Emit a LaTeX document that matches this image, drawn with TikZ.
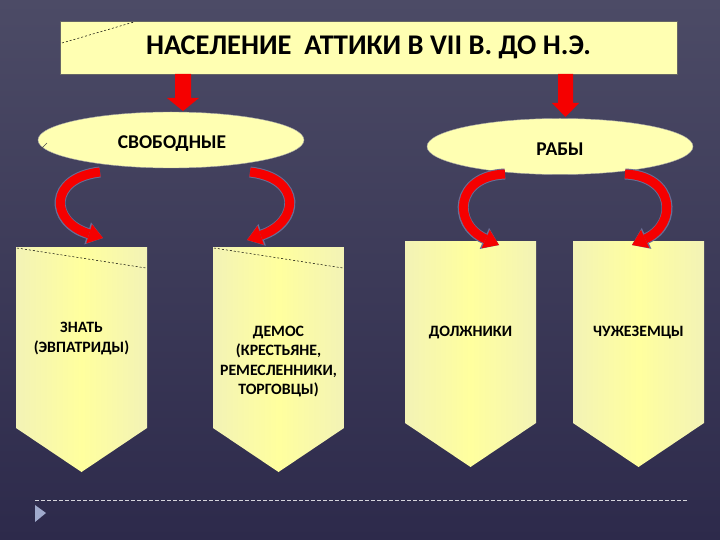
\documentclass[tikz,border=0pt]{standalone}
\usepackage{fontspec}
\setmainfont{Carlito}
\usetikzlibrary{shapes.geometric,arrows.meta}
\definecolor{bgtop}{RGB}{76,75,102}
\definecolor{bgbot}{RGB}{45,42,75}
\definecolor{paper}{RGB}{255,255,178}
\definecolor{boxl}{RGB}{243,243,182}
\definecolor{boxm}{RGB}{255,255,158}
\definecolor{arrred}{RGB}{245,0,0}
\definecolor{arredge}{RGB}{105,110,150}
\definecolor{bullet}{RGB}{160,170,204}
\newcommand{\carrow}[4]{%
  \draw[arredge, line width=11pt, -{Triangle[length=16pt,width=23pt,line width=0pt]}] #1 .. controls #2 and #3 .. #4;
  \draw[arrred, line width=9pt, -{Triangle[length=14.5pt,width=20pt,line width=0pt]}] #1 .. controls #2 and #3 .. #4;}
\begin{document}
\begin{tikzpicture}[x=1pt,y=-1pt,
  txt/.style={font=\bfseries\fontsize{15.8}{19.5}\selectfont, text=black, align=center},
  oval/.style={ellipse, draw=black!35, fill=paper, minimum width=266pt, minimum height=56pt, inner sep=0pt},
  ovaltxt/.style={font=\bfseries\fontsize{19.5}{22}\selectfont, text=black, inner sep=0pt},
  downarr/.style={fill=arrred},
  artifact/.style={black, line width=0.5pt, dash pattern=on 2pt off 2pt}]
\useasboundingbox (0,0) rectangle (720,540);
\shade[top color=bgtop, bottom color=bgbot] (0,0) rectangle (720,540);

% title
\node[draw=black!60, fill=paper, minimum width=617pt, minimum height=53pt, inner sep=0pt,
      font=\bfseries\fontsize{28.5}{32}\selectfont] (title) at (368.5,47.5) {НАСЕЛЕНИЕ\ \ АТТИКИ В VII В. ДО Н.Э.};
\draw[artifact] (62,43) -- (134,22);

% down arrows
\fill[downarr] (175,74) -- (191,74) -- (191,98) -- (199,98) -- (183,111) -- (167,98) -- (175,98) -- cycle;
\fill[downarr] (558,74) -- (573,74) -- (573,103) -- (579,103) -- (565.5,117) -- (552,103) -- (558,103) -- cycle;

% ovals
\node[oval] (free) at (171,140) {};
\node[ovaltxt] (freetxt) at (172,144) {СВОБОДНЫЕ};
\node[oval] (slaves) at (560,146.5) {};
\node[ovaltxt] (slavestxt) at (560,149.5) {РАБЫ};
\draw[black!70, line width=0.5pt] (40,150) -- (47,143);

% boxes
\foreach \x/\t/\h in {16/247/181, 213/247/181, 405/241/182, 573/241/182}{
  \shade[left color=boxl, right color=boxl, middle color=boxm]
    (\x,\t) -- ++(131,0) -- ++(0,\h) -- ++(-65.5,44) -- ++(-65.5,-44) -- cycle;
}
\draw[artifact] (17,248) -- (146,268);
\draw[artifact] (214,248) -- (343,268);

\node[txt] (b1) at (81.5,338.5) {ЗНАТЬ\\(ЭВПАТРИДЫ)};
\node[txt] (b2) at (278.5,361.5) {ДЕМОС\\(КРЕСТЬЯНЕ,\\РЕМЕСЛЕННИКИ,\\ТОРГОВЦЫ)};
\node[txt] (b3) at (470.5,332.5) {ДОЛЖНИКИ};
\node[txt] (b4) at (638.5,332.5) {ЧУЖЕЗЕМЦЫ};

% curved arrows
\coordinate (f1) at (100,172);
\coordinate (f2) at (250,172);
\coordinate (s1) at (505,174);
\coordinate (s2) at (625,174);
\coordinate (t1) at (103,238);
\coordinate (t2) at (247,240);
\coordinate (t3) at (499,245);
\coordinate (t4) at (632,245);
\carrow{(f1)}{(48,178)}{(50,222)}{(t1)}
\carrow{(f2)}{(302,178)}{(300,222)}{(t2)}
\carrow{(s1)}{(455,176)}{(452,224)}{(t3)}
\carrow{(s2)}{(675,176)}{(678,224)}{(t4)}

% footer
\coordinate (la) at (35,500);
\coordinate (lb) at (687,500);
\draw[white!80!bgbot, line width=0.7pt, dash pattern=on 4pt off 2pt] (la) -- (lb);
\fill[bullet] (35,505) -- (46,513) -- (35,522) -- cycle;
\end{tikzpicture}
\end{document}
